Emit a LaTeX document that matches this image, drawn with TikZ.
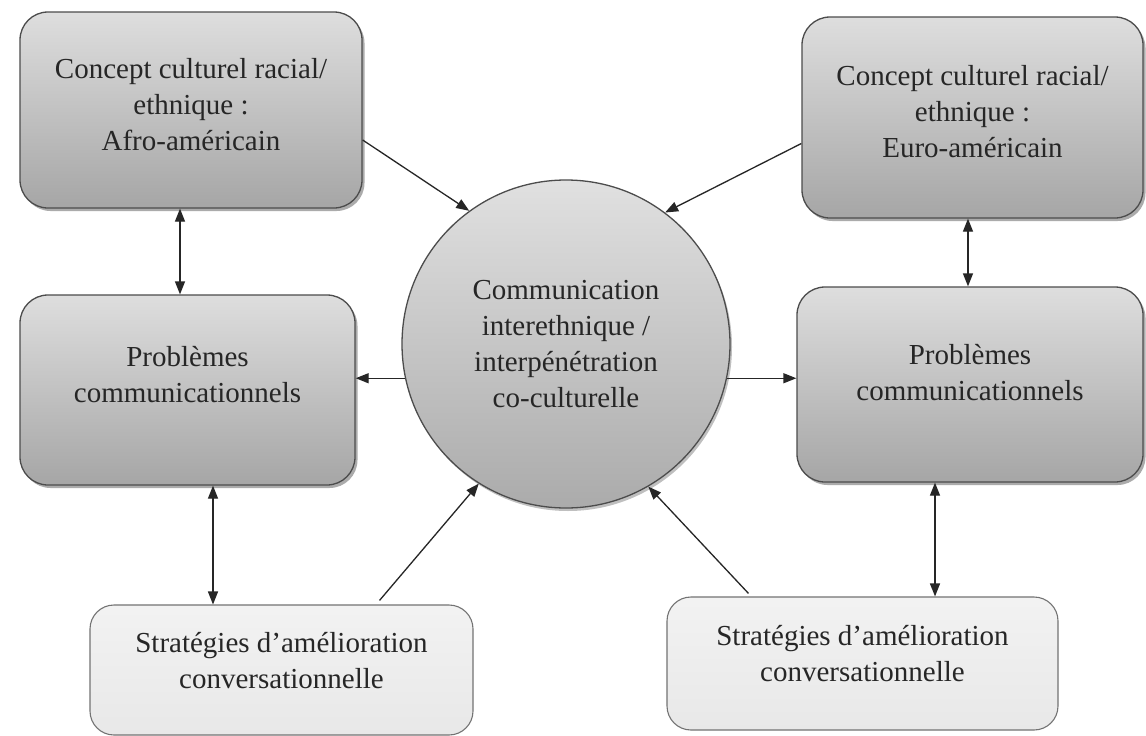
\documentclass[tikz,border=0pt]{standalone}
\usepackage{fontspec}
\setmainfont{Liberation Serif}
\usetikzlibrary{arrows.meta,shadows}
\begin{document}
\begin{tikzpicture}[x=1pt,y=-1pt,
  txt/.style={font=\fontsize{29}{36}\selectfont, text=black!85, align=center, inner sep=0pt},
  darkbox/.style={txt, draw=black!70, line width=1.3pt, rounded corners=28pt,
     top color=black!13, bottom color=black!35,
     drop shadow={shadow xshift=2.5pt,shadow yshift=-3pt,fill=black!55,opacity=0.6}},
  lightbox/.style={txt, draw=black!55, line width=1.1pt, rounded corners=24pt,
     top color=black!5, bottom color=black!9},
  hub/.style={txt, circle, draw=black!70, line width=1.3pt, minimum size=328pt,
     top color=black!12, bottom color=black!33,
     drop shadow={shadow xshift=2pt,shadow yshift=-3pt,fill=black!50,opacity=0.5}},
  arr/.style={draw=black!85, line width=1.3pt, -{Triangle[length=13pt,width=10pt]}},
  darr/.style={draw=black!85, line width=1.3pt, {Triangle[length=13pt,width=10pt]}-{Triangle[length=13pt,width=10pt]}}
]
\useasboundingbox (0,0) rectangle (1146,736);
\fill[white] (0,0) rectangle (1146,736);

\node[darkbox, minimum width=342pt, minimum height=196pt, text depth=12pt] (tl) at (191,110)
  {Concept culturel racial/\\ethnique :\\Afro-américain};
\node[darkbox, minimum width=341pt, minimum height=201pt, text depth=12pt] (tr) at (972.5,117.5)
  {Concept culturel racial/\\ethnique :\\Euro-américain};
\node[darkbox, minimum width=335pt, minimum height=190pt, text depth=32pt] (ml) at (187.5,390)
  {Problèmes\\communicationnels};
\node[darkbox, minimum width=346pt, minimum height=195pt, text depth=24pt] (mr) at (970,384.5)
  {Problèmes\\communicationnels};
\node[lightbox, minimum width=383pt, minimum height=130pt, text depth=20pt] (bl) at (281.5,670)
  {Stratégies d’amélioration\\conversationnelle};
\node[lightbox, minimum width=391pt, minimum height=133pt, text depth=20pt] (br) at (862.5,663.5)
  {Stratégies d’amélioration\\conversationnelle};
\node[hub] (c) at (566,344)
  {Communication\\interethnique /\\interpénétration\\co-culturelle};

% diagonal arrows into the hub
\draw[arr] ([yshift=-30pt]tl.east) -- (c.126);
\draw[arr] ([yshift=-26pt]tr.west) -- (c.53);
\draw[arr] ([xshift=98pt,yshift=4pt]bl.north) -- (c.238);
\draw[arr] ([xshift=-114pt,yshift=3pt]br.north) -- (c.300);

% horizontal arrows out of the hub
\draw[arr] (c.192) -- (ml.east |- c.192);
\draw[arr] (c.348) -- (mr.west |- c.348);

% vertical double arrows
\draw[darr] ([xshift=-11pt]tl.south) -- ([xshift=-11pt]tl.south |- ml.north);
\draw[darr] ([xshift=25.5pt]ml.south) -- ([xshift=25.5pt]ml.south |- bl.north);
\draw[darr] ([xshift=-4.5pt]tr.south) -- ([xshift=-4.5pt]tr.south |- mr.north);
\draw[darr] ([xshift=-35pt]mr.south) -- ([xshift=-35pt]mr.south |- br.north);
\end{tikzpicture}
\end{document}
